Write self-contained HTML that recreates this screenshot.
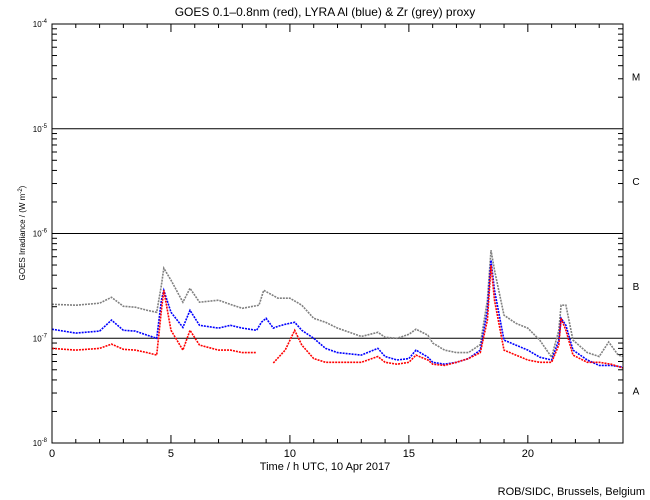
<!DOCTYPE html>
<html><head><meta charset="utf-8"><style>
body{margin:0;background:#fff}
svg{display:block;font-family:"Liberation Sans",sans-serif}
</style></head><body>
<svg id="c" width="650" height="500">
<text x="325" y="16" text-anchor="middle" font-size="12">GOES 0.1–0.8nm (red), LYRA Al (blue) &amp; Zr (grey) proxy</text>
<text x="325" y="470" text-anchor="middle" font-size="11">Time / h UTC, 10 Apr 2017</text>
<text transform="translate(25,233) rotate(-90)" text-anchor="middle" font-size="8">GOES Irradiance / (W m<tspan dy="-3" font-size="6">-2</tspan><tspan dy="3">)</tspan></text>
<text x="645" y="495" text-anchor="end" font-size="11">ROB/SIDC, Brussels, Belgium</text>
<g id="axes"></g>
<g id="series"></g>
<rect x="52" y="24" width="571" height="419" fill="none" stroke="#000" stroke-width="1"/>
</svg>
<script>
const greyT=[0,1,2,2.5,3,3.5,4,4.4,4.6,4.7,5,5.5,5.8,6.2,7,7.6,8,8.7,8.9,9.5,10,10.5,11,11.5,12,13,13.7,14,14.5,15,15.3,15.8,16,16.5,17,17.5,18,18.3,18.45,18.6,19,19.5,20,20.5,21,21.3,21.4,21.6,21.9,22.5,23,23.4,23.8,24];
const greyV=[2.11e-7,2.07e-7,2.16e-7,2.46e-7,2.02e-7,1.98e-7,1.85e-7,1.77e-7,3.21e-7,4.66e-7,3.58e-7,2.21e-7,3.0e-7,2.21e-7,2.31e-7,2.07e-7,1.93e-7,2.07e-7,2.87e-7,2.41e-7,2.41e-7,2.07e-7,1.55e-7,1.42e-7,1.25e-7,1.04e-7,1.14e-7,1.02e-7,1.0e-7,1.09e-7,1.22e-7,1.07e-7,0.90e-7,0.77e-7,0.73e-7,0.73e-7,0.87e-7,2.31e-7,6.92e-7,4.46e-7,1.66e-7,1.39e-7,1.25e-7,0.96e-7,0.66e-7,1.19e-7,2.07e-7,2.07e-7,0.96e-7,0.73e-7,0.67e-7,0.92e-7,0.69e-7,0.67e-7];
const blueT=[0,1,2,2.5,3,3.5,4,4.4,4.6,4.7,5,5.5,5.8,6.2,7,7.5,8,8.6,8.8,9,9.3,9.5,9.8,10.2,10.5,11,11.5,12,13,13.7,14,14.5,15,15.3,15.8,16,16.5,17,17.5,18,18.3,18.45,18.6,19,19.5,20,20.5,21,21.3,21.4,21.6,21.9,22.5,23,23.5,24];
const blueV=[1.22e-7,1.12e-7,1.17e-7,1.49e-7,1.19e-7,1.17e-7,1.07e-7,1.0e-7,2.31e-7,2.87e-7,1.77e-7,1.27e-7,1.85e-7,1.33e-7,1.25e-7,1.33e-7,1.25e-7,1.19e-7,1.42e-7,1.55e-7,1.25e-7,1.30e-7,1.36e-7,1.42e-7,1.19e-7,1.0e-7,0.80e-7,0.73e-7,0.69e-7,0.80e-7,0.67e-7,0.62e-7,0.64e-7,0.77e-7,0.66e-7,0.59e-7,0.565e-7,0.59e-7,0.64e-7,0.77e-7,1.85e-7,5.56e-7,2.87e-7,0.96e-7,0.86e-7,0.77e-7,0.66e-7,0.62e-7,0.96e-7,1.55e-7,1.33e-7,0.77e-7,0.62e-7,0.55e-7,0.55e-7,0.53e-7];
const redT=[0,1,2,2.5,3,3.5,4,4.4,4.6,4.7,5,5.5,5.8,6.2,7,7.5,8,8.6,null,9.3,9.8,10.2,10.5,11,11.5,12,13,13.7,14,14.5,15,15.3,15.8,16,16.5,17,17.5,18,18.3,18.45,18.6,19,19.5,20,20.5,21,21.3,21.4,21.6,21.9,22.5,23,23.5,24];
const redV=[0.80e-7,0.77e-7,0.80e-7,0.88e-7,0.785e-7,0.77e-7,0.73e-7,0.69e-7,1.85e-7,2.87e-7,1.19e-7,0.77e-7,1.19e-7,0.86e-7,0.77e-7,0.77e-7,0.73e-7,0.73e-7,null,0.58e-7,0.77e-7,1.19e-7,0.86e-7,0.64e-7,0.59e-7,0.59e-7,0.59e-7,0.67e-7,0.59e-7,0.565e-7,0.59e-7,0.69e-7,0.62e-7,0.565e-7,0.55e-7,0.59e-7,0.64e-7,0.73e-7,1.49e-7,4.98e-7,2.31e-7,0.77e-7,0.69e-7,0.62e-7,0.59e-7,0.59e-7,0.86e-7,1.55e-7,1.19e-7,0.69e-7,0.59e-7,0.59e-7,0.565e-7,0.52e-7];
const xTickLabels=["0","5","10","15","20"];
const yExps=[-8,-7,-6,-5,-4];
const classLabels=["A","B","C","M"];

const X0=52,X1=623,Y0=443,Y1=24;
const xs=h=>X0+(X1-X0)*h/24;
const ys=v=>Y0-(Math.log10(v)+8)/4*(Y0-Y1);
const NS="http://www.w3.org/2000/svg";
function mk(tag,at,par){const e=document.createElementNS(NS,tag);for(const k in at)e.setAttribute(k,at[k]);par.appendChild(e);return e;}
const ax=document.getElementById('axes');
// x ticks
for(let h=0;h<=24;h++){
  const L=h%5===0?8:4,x=xs(h);
  const t1=mk('line',{x1:x,x2:x,y1:Y0,y2:Y0-L,stroke:'#000'},ax);
  
  
  const t2=mk('line',{x1:x,x2:x,y1:Y1,y2:Y1+L,stroke:'#000'},ax);
  
  
}
xTickLabels.forEach(s=>{
  const t=mk('text',{x:xs(+s),y:457,'text-anchor':'middle','font-size':11},ax);t.textContent=s;
  
  
});
// y ticks
yExps.forEach((e,i)=>{
  const y=ys(Math.pow(10,e));
  const t=mk('text',{x:47,y:y+3,'text-anchor':'end','font-size':8},ax);
  t.innerHTML='10<tspan dy="-4" font-size="6">'+e+'</tspan>';
  
  
  if(e>-8&&e<-4){
    const g=mk('line',{x1:X0,x2:X1,y1:y,y2:y,stroke:'#000'},ax);
    
    
  }
  if(e<-4){for(let m=2;m<=9;m++){
    const yy=ys(m*Math.pow(10,e));
    const a=mk('line',{x1:X0,x2:X0+5,y1:yy,y2:yy,stroke:'#000'},ax);
    
    
    const b=mk('line',{x1:X1,x2:X1-5,y1:yy,y2:yy,stroke:'#000'},ax);
    
    
  }}
});
classLabels.forEach((c,i)=>{
  const y=(ys(Math.pow(10,-8+i))+ys(Math.pow(10,-7+i)))/2;
  const t=mk('text',{x:636,y:y+4,'text-anchor':'middle','font-size':10},ax);t.textContent=c;
  
  
});
// series
const sg=document.getElementById('series');
function draw(T,V,col,name){
  let segs=[[]];
  T.forEach((t,i)=>{ if(t===null||V[i]===null){segs.push([]);return;} segs[segs.length-1].push(xs(t).toFixed(1)+','+ys(V[i]).toFixed(1)); });
  segs.filter(s=>s.length).forEach(s=>{
    const p=mk('polyline',{points:s.join(' '),fill:'none',stroke:col,'stroke-width':1.6,'stroke-dasharray':'2 1'},sg);
    
    
  });
}
draw(greyT,greyV,'#808080','zr-grey-series');
draw(blueT,blueV,'#0000ff','al-blue-series');
draw(redT,redV,'#ff0000','goes-red-series');
</script>
</body></html>
